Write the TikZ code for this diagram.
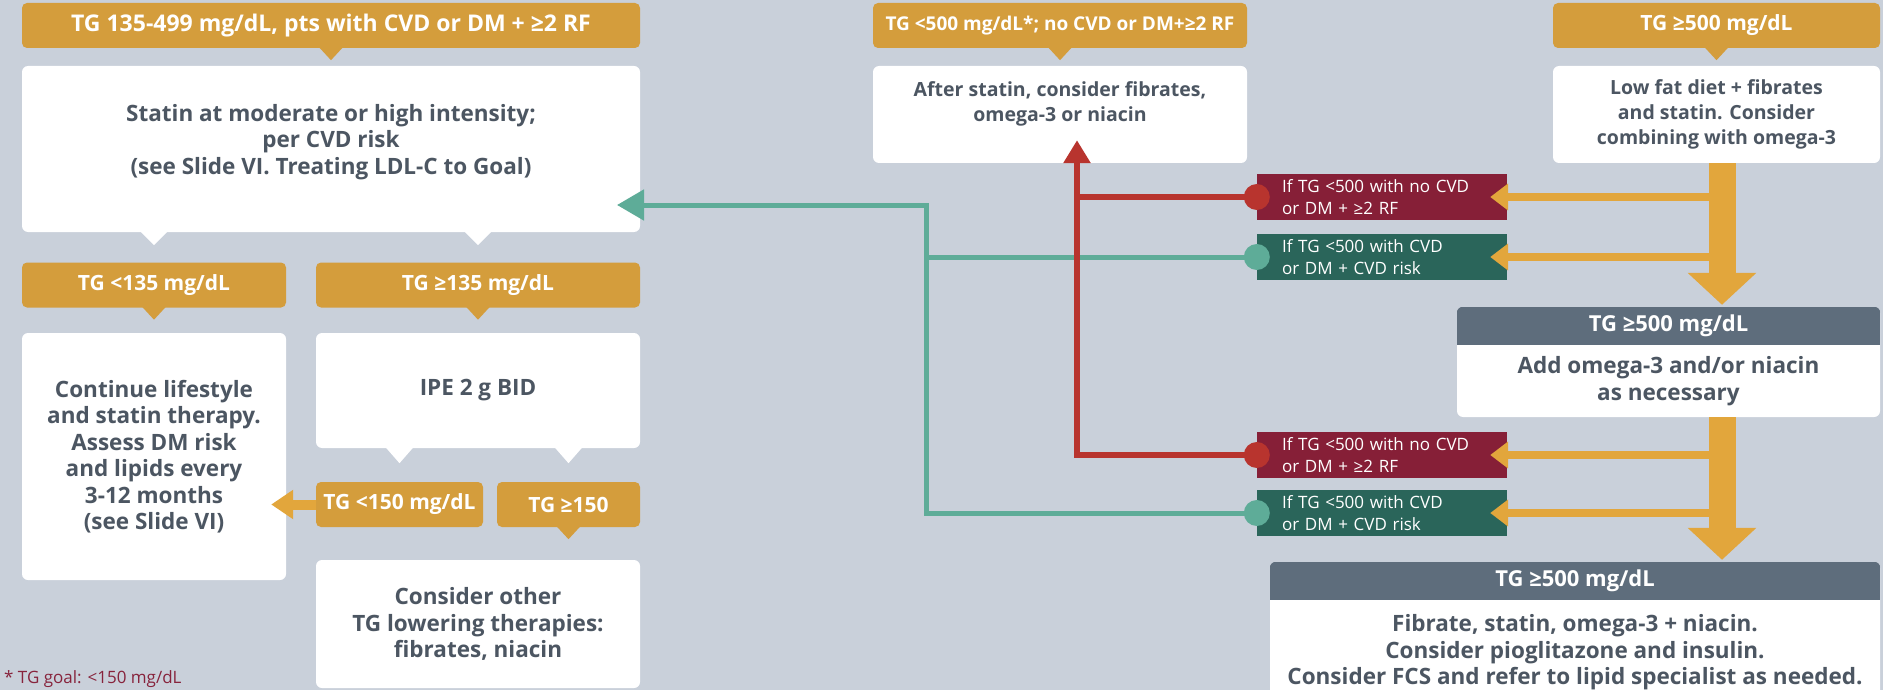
\documentclass[tikz,border=0pt]{standalone}
\usepackage{fontspec}
\setmainfont{Open Sans}
\usepackage{tikz}
\usetikzlibrary{positioning,arrows.meta,calc}
\definecolor{tgbg}{RGB}{201,208,218}
\definecolor{tgorange}{RGB}{212,157,60}
\definecolor{tgamber}{RGB}{226,166,60}
\definecolor{tgtext}{RGB}{76,86,98}
\definecolor{tgslate}{RGB}{94,109,124}
\definecolor{tgwine}{RGB}{134,31,55}
\definecolor{tgpine}{RGB}{42,101,90}
\definecolor{tgred}{RGB}{184,52,46}
\definecolor{tgmint}{RGB}{94,172,152}
\definecolor{tgnote}{RGB}{135,35,60}
\newcommand{\bxfont}{\bfseries\fontsize{22.5}{26.5}\selectfont}
\newcommand{\bxsmall}{\bfseries\fontsize{19.5}{25}\selectfont}
\newcommand{\hdfont}{\bfseries\fontsize{21}{24}\selectfont}
\newcommand{\hdbig}{\bfseries\fontsize{23}{24}\selectfont}
\newcommand{\hdsmall}{\bfseries\fontsize{19}{24}\selectfont}
\newcommand{\tgfont}{\fontsize{17}{21.5}\selectfont}
\newcommand{\ntfont}{\fontsize{17}{19}\selectfont}

\begin{document}
\begin{tikzpicture}[x=1pt,y=-1pt,
  hdr/.style={fill=tgorange,rounded corners=5pt,text=white,font=\hdfont,inner sep=0pt,minimum height=45pt},
  wbox/.style={fill=white,rounded corners=6pt,text=tgtext,font=\bxfont,align=center,inner sep=0pt},
  tagbox/.style={text=white,font=\tgfont,align=left,text width=200pt,inner xsep=25pt,inner ysep=0pt,minimum height=46pt},
  nored/.style={tagbox,fill=tgwine},
  okgrn/.style={tagbox,fill=tgpine},
  gframe/.style={fill=white,rounded corners=6pt,inner sep=0pt},
  ghdr/.style={text=white,font=\bfseries\fontsize{22}{24}\selectfont,inner sep=0pt,minimum height=38pt},
  gtxt/.style={text=tgtext,font=\bxfont,align=center,inner sep=0pt},
  bigar/.style={draw=tgamber,line width=27pt,-{Triangle[width=67pt,length=32pt]}},
  sidear/.style={draw=tgamber,line width=8pt,-{Triangle[width=26pt,length=18pt]}},
  redln/.style={draw=tgred,line width=6pt},
  grnln/.style={draw=tgmint,line width=5pt}
]
\useasboundingbox (0,0) rectangle (1883,690);
\fill[tgbg] (0,0) rectangle (1883,690);

% LEFT COLUMN: moderate TG with CVD or DM
\node[hdr,font=\hdbig,minimum width=618pt] (h0) at (331,25.5) {TG 135-499 mg/dL, pts with CVD or DM + ≥2 RF};
\node[wbox,minimum width=618pt,minimum height=166pt] (stat) at (331,149) {};
\node[gtxt] (stattxt) at (331,142) {Statin at moderate or high intensity;\\per CVD risk\\(see Slide VI. Treating LDL-C to Goal)};

\node[hdr,minimum width=264pt] (lt135) at (154,285) {TG <135 mg/dL};
\node[hdr,minimum width=324pt] (ge135) at (478,285) {TG ≥135 mg/dL};

\node[wbox,minimum width=264pt,minimum height=247pt] (cont) at (154,456.5) {Continue lifestyle\\and statin therapy.\\Assess DM risk\\and lipids every\\3-12 months\\(see Slide VI)};
\node[wbox,minimum width=324pt,minimum height=115pt] (ipe) at (478,390.5) {IPE 2 g BID};

\node[hdr,minimum width=167pt] (lt150) at (399.5,504.5) {TG <150 mg/dL};
\node[hdr,minimum width=143pt] (ge150) at (568.5,504.5) {TG ≥150};

\node[wbox,minimum width=324pt,minimum height=128pt] (other) at (478,624) {Consider other\\TG lowering therapies:\\fibrates, niacin};

\draw[sidear,line width=10pt,-{Triangle[width=28pt,length=22pt]}] (lt150.west) -- ($(cont.east |- lt150.west)+(-15,0)$);

\node[font=\ntfont,text=tgnote,anchor=west,inner sep=0pt] (goal) at (4,679) {* TG goal: <150 mg/dL};

% MIDDLE: TG below 500 without CVD
\node[hdr,font=\hdsmall,minimum width=374pt] (m0) at (1060,25.5) {TG <500 mg/dL*; no CVD or DM+≥2 RF};
\node[wbox,minimum width=374pt,minimum height=97pt] (after) at (1060,114.5) {};
\node[gtxt,font=\bxsmall] (aftertxt) at (1060,104) {After statin, consider fibrates,\\omega-3 or niacin};

% RIGHT COLUMN: TG 500 and above
\node[hdr,minimum width=327pt] (r0) at (1716.5,25.5) {TG ≥500 mg/dL};
\node[wbox,font=\bxsmall,minimum width=327pt,minimum height=97pt] (lowfat) at (1716.5,114.5) {Low fat diet + fibrates\\and statin. Consider\\combining with omega-3};

\node[gframe,minimum width=423pt,minimum height=110pt] (g1) at (1668.5,362) {};
\begin{scope}
  \clip[rounded corners=6pt] (g1.north west) rectangle (g1.south east);
  \fill[tgslate] (g1.north west) rectangle ($(g1.north east)+(0,38)$);
\end{scope}
\node[ghdr,below=0pt of g1.north] (g1hdr) {TG ≥500 mg/dL};
\node[gtxt,minimum height=72pt,below=0pt of g1hdr] (addom) {Add omega-3 and/or niacin\\as necessary};

\node[gframe,minimum width=610pt,minimum height=142pt] (g2) at (1575,633) {};
\begin{scope}
  \clip[rounded corners=6pt] (g2.north west) rectangle (g2.south east);
  \fill[tgslate] (g2.north west) rectangle ($(g2.north east)+(0,38)$);
\end{scope}
\node[ghdr,below=0pt of g2.north] (g2hdr) {TG ≥500 mg/dL};
\node[gtxt,minimum height=104pt,below=0pt of g2hdr] (fcs) {Fibrate, statin, omega-3 + niacin.\\Consider pioglitazone and insulin.\\Consider FCS and refer to lipid specialist as needed.};

% pointers under headers and boxes
\foreach \h in {h0,lt135,ge135,ge150,m0,r0}
  \fill[tgorange] ($(\h.south)+(-12,-1)$) -- ($(\h.south)+(12,-1)$) -- ($(\h.south)+(0,12)$) -- cycle;
\foreach \a/\b/\d in {stat/lt135/13,stat/ge135/13,ipe/lt150/15,ipe/ge150/15}
  \fill[white] ($(\b.center |- \a.south)+(-14,-1)$) -- ($(\b.center |- \a.south)+(14,-1)$) -- ($(\b.center |- \a.south)+(0,\d)$) -- cycle;

% CONDITION TAGS
\node[nored] (nored1) at (1382,197) {If TG <500 with no CVD\\or DM + ≥2 RF};
\node[okgrn] (okgrn1) at (1382,257) {If TG <500 with CVD\\or DM + CVD risk};
\node[nored] (nored2) at (1382,455) {If TG <500 with no CVD\\or DM + ≥2 RF};
\node[okgrn] (okgrn2) at (1382,513) {If TG <500 with CVD\\or DM + CVD risk};

% green route back to the statin box
\coordinate (gv) at (926,0);
\coordinate (gin) at (617,205);
\draw[grnln,-{Triangle[width=30pt,length=27pt]}] (okgrn2.west) -- (gv |- okgrn2.west) -- (gv |- gin) -- (gin);
\draw[grnln] (okgrn1.west) -- (gv |- okgrn1.west);

% red route up to the middle box
\coordinate (rv) at (1077,0);
\draw[redln,-{Triangle[width=26pt,length=23pt]}] (nored2.west) -- (rv |- nored2.west) -- ($(rv |- after.south)+(0,-23)$);
\draw[redln] (nored1.west) -- (rv |- nored1.west);

\foreach \t in {nored1,nored2} \fill[tgred] (\t.west) circle (13pt);
\foreach \t in {okgrn1,okgrn2} \fill[tgmint] (\t.west) circle (13pt);

% big orange flow on the right
\coordinate (sh) at (1722,0);
\draw[bigar] (sh |- lowfat.south) -- ($(sh |- g1.north)+(0,-2)$);
\draw[bigar] (sh |- g1.south) -- ($(sh |- g2.north)+(0,-2)$);
\foreach \t in {nored1,okgrn1,nored2,okgrn2}
  \draw[sidear] (sh |- \t.east) -- ($(\t.east)+(-17,0)$);

\end{tikzpicture}
\end{document}
